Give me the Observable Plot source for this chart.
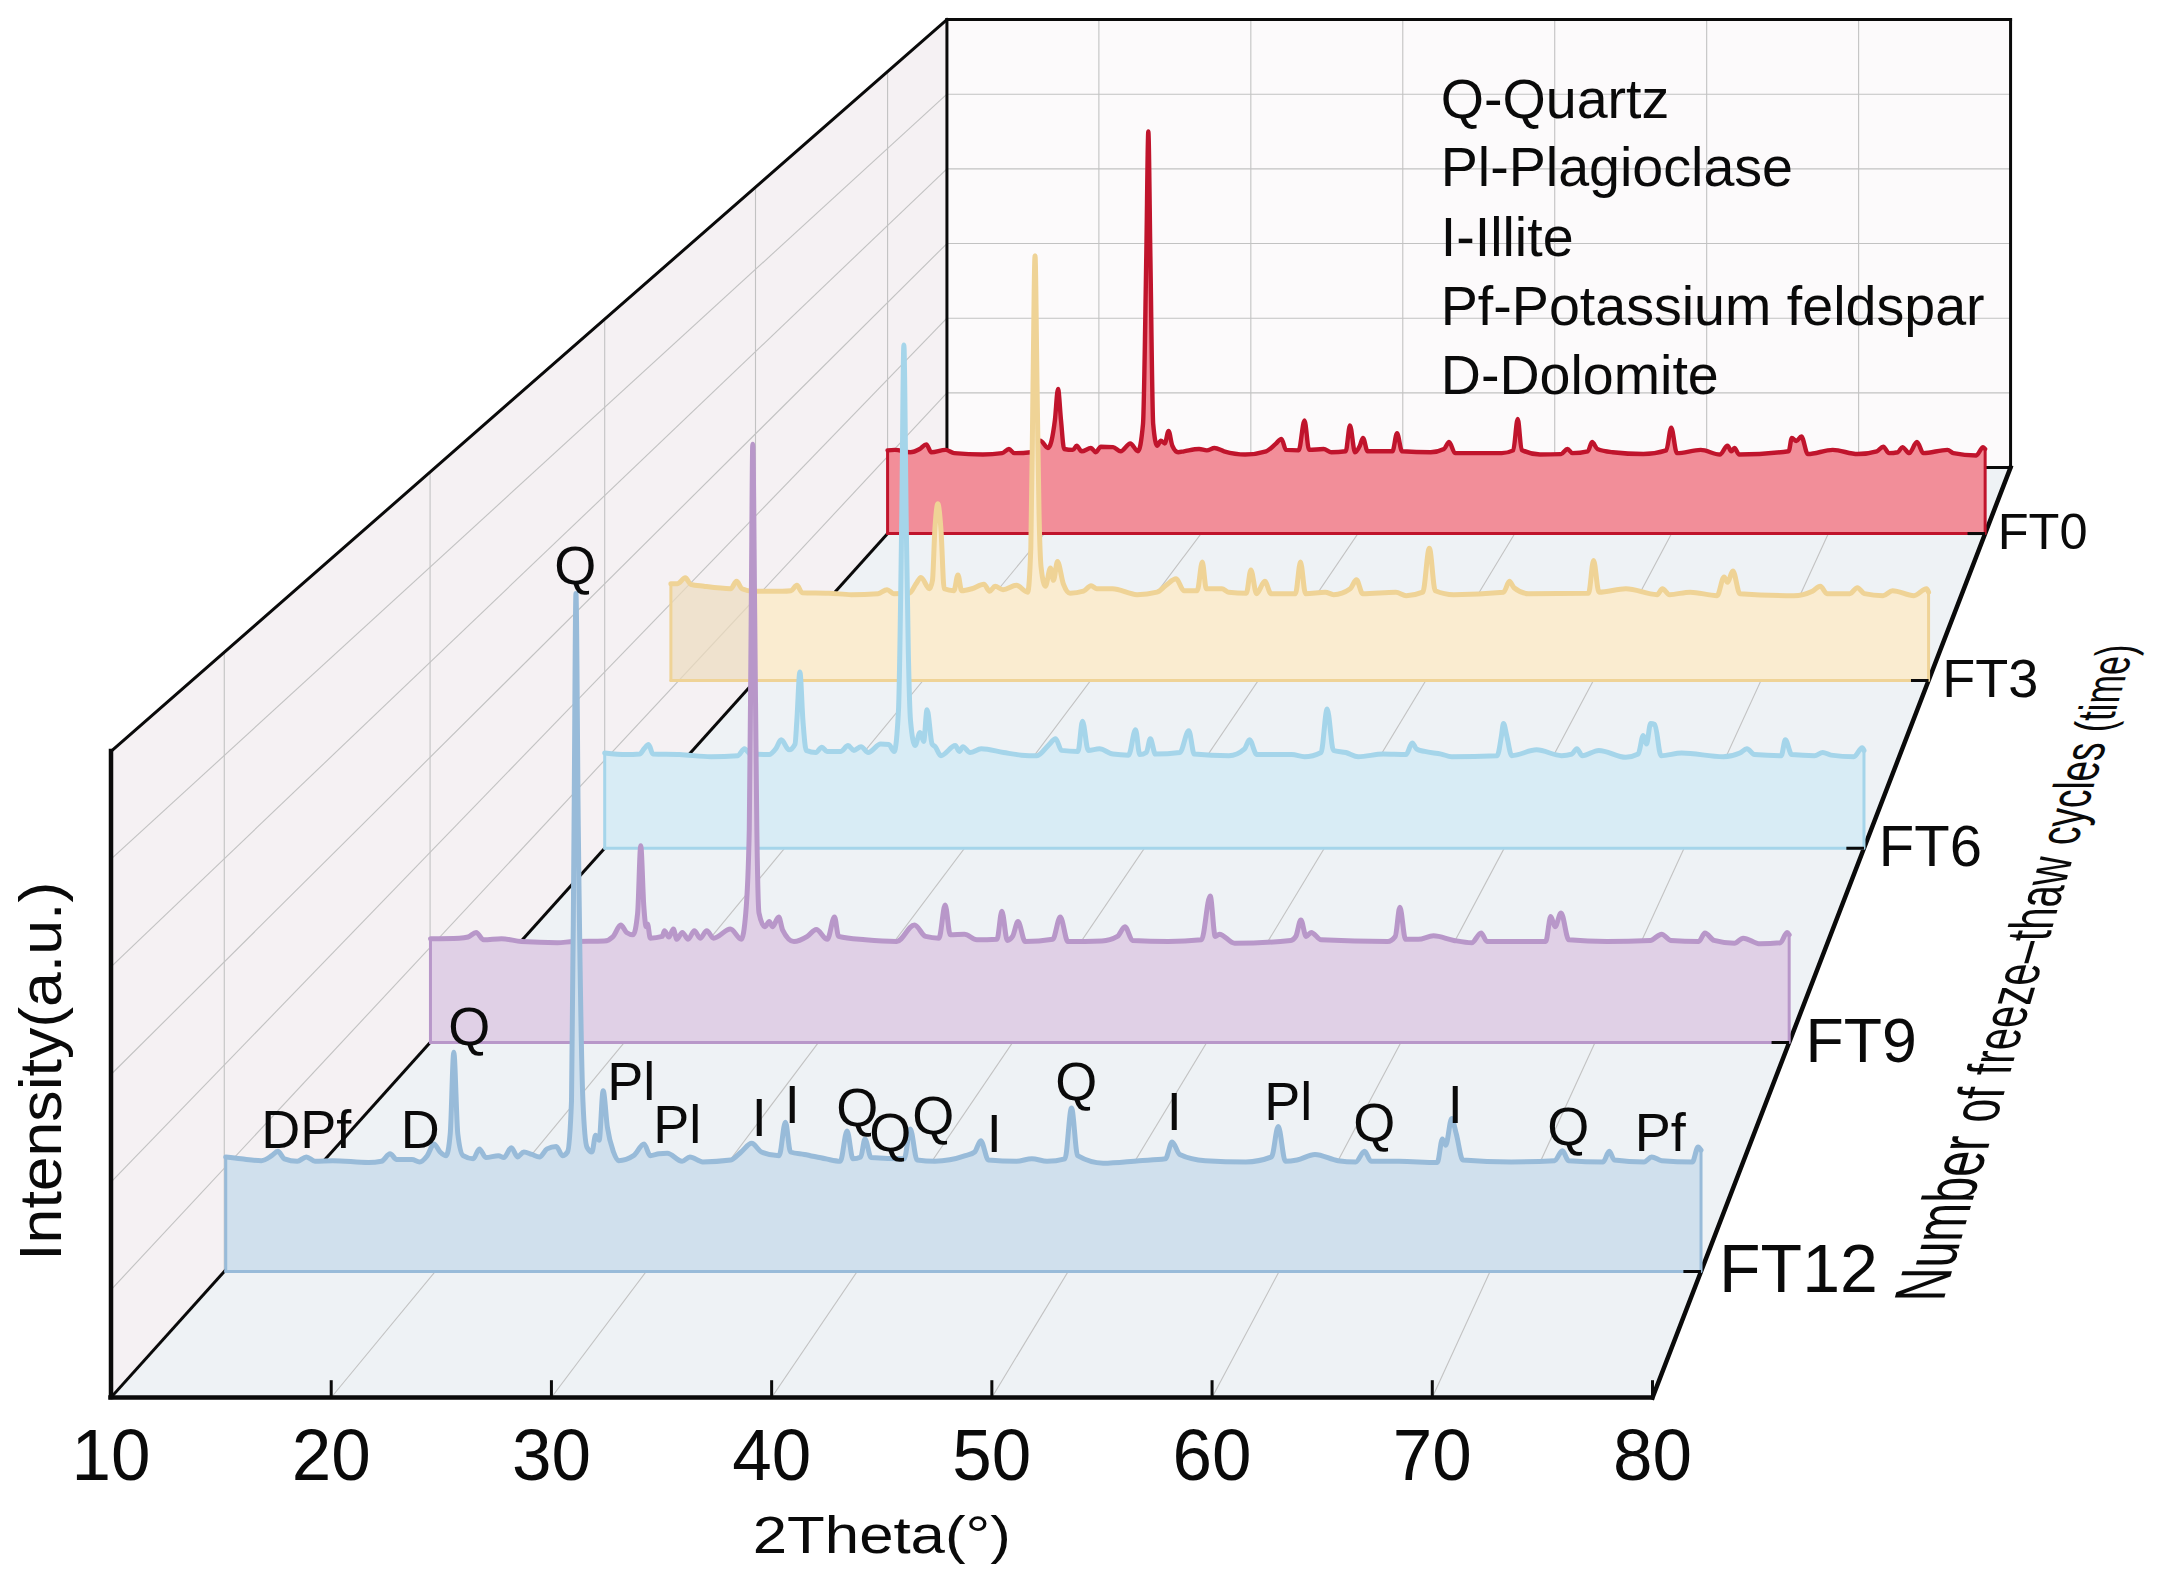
<!DOCTYPE html>
<html>
<head>
<meta charset="utf-8">
<script src="https://cdn.jsdelivr.net/npm/d3@7"></script>
<script src="https://cdn.jsdelivr.net/npm/@observablehq/plot@0.6"></script>
<style>html,body{margin:0;padding:0;background:#fff}svg{display:block}</style>
</head>
<body>
<div id="chart"></div>
<script>
const ft0 = [[10,180],[10.47,181],[11.44,176],[12.05,183],[12.47,193],[12.79,176],[13.69,181],[14.25,174],[16.08,171],[17.3,174],[17.74,183],[18.08,174],[19.13,176],[19.74,201],[20.23,185],[20.67,245],[20.87,313],[21.06,245],[21.26,183],[21.82,181],[22.06,190],[22.38,178],[22.97,185],[23.28,176],[23.6,188],[24.38,187],[24.87,178],[25.48,195],[25.97,178],[26.29,237],[26.5,600],[26.63,870],[26.76,600],[26.94,237],[27.19,190],[27.43,201],[27.68,195],[27.92,222],[28.16,190],[28.53,176],[28.9,178],[29.87,183],[30.36,180],[30.85,185],[31.46,178],[32.8,171],[34.14,178],[34.75,194],[35.12,205],[35.41,181],[36.22,180],[36.59,245],[36.88,181],[37.81,183],[38.3,176],[39.22,178],[39.49,234],[39.81,176],[40.12,190],[40.32,207],[40.61,178],[42.2,178],[42.49,217],[42.81,178],[44.64,176],[45.49,183],[45.81,198],[46.19,174],[47.7,174],[49.17,174],[49.9,180],[50.19,248],[50.44,181],[51.61,171],[52.95,172],[53.36,183],[53.68,174],[54.66,178],[54.93,198],[55.27,183],[56.24,176],[58.2,172],[59.66,180],[59.98,229],[60.34,174],[61.86,181],[63.08,171],[63.57,190],[63.81,178],[64.01,185],[64.31,171],[67.47,178],[67.67,207],[67.96,200],[68.28,210],[68.69,172],[70.28,181],[71.87,172],[73.09,178],[73.5,188],[73.87,174],[74.43,176],[74.72,187],[75.16,174],[75.65,198],[76.06,174],[77.6,181],[77.97,174],[79.43,169],[79.87,187],[80,183]];
const ft3 = [[4.95,196],[5.33,196],[5.81,208],[6.13,195],[6.92,191],[8.52,186],[8.87,201],[9.19,186],[9.86,181],[10,181],[11.59,181],[12.12,182],[12.47,193],[12.79,178],[14.38,177],[15.72,174],[17.31,176],[17.85,184],[18.25,176],[19.18,177],[19.58,196],[19.87,209],[20.38,186],[20.56,203],[20.7,304],[20.88,358],[21.07,304],[21.26,186],[21.84,182],[22.08,214],[22.3,182],[22.91,186],[23.63,195],[23.97,181],[24.3,191],[24.77,184],[25.57,193],[26.24,179],[26.43,270],[26.56,600],[26.68,861],[26.8,600],[26.92,338],[27.04,230],[27.3,191],[27.6,228],[27.78,203],[28.02,241],[28.37,196],[28.77,177],[29.57,181],[30.02,192],[30.37,186],[31.3,186],[32.77,174],[33.96,179],[34.5,193],[35.1,206],[35.56,182],[36.36,182],[36.66,240],[36.9,186],[37.83,186],[38.23,179],[39.29,177],[39.56,224],[39.9,176],[40.39,201],[40.76,176],[42.22,176],[42.52,240],[42.82,176],[44.0,179],[44.5,174],[45.49,186],[45.86,204],[46.23,176],[48.21,179],[48.83,172],[49.82,179],[50.21,268],[50.56,182],[51.67,174],[54.64,179],[54.99,201],[55.26,188],[56.13,176],[59.71,177],[60.01,243],[60.33,179],[61.94,186],[63.8,174],[64.12,186],[64.54,174],[65.78,179],[67.38,172],[67.8,210],[68.0,199],[68.32,222],[68.74,176],[71.96,172],[73.07,181],[73.54,191],[73.94,176],[75.3,176],[75.75,188],[76.17,176],[77.28,172],[77.85,182],[79.13,172],[79.88,186],[80,179]];
const ft6 = [[10,180],[11.2,177],[11.94,178],[12.19,188],[12.44,196],[12.68,178],[14.17,177],[15.91,173],[17.4,175],[17.77,188],[18.1,178],[19.14,177],[19.51,188],[19.81,205],[20.25,186],[20.58,197],[20.68,241],[20.85,333],[21.02,241],[21.2,185],[21.74,181],[22.07,191],[22.36,183],[23.11,183],[23.53,194],[23.85,185],[24.25,192],[24.65,181],[25.34,197],[25.79,196],[26.09,183],[26.33,260],[26.51,620],[26.63,951],[26.76,620],[26.88,367],[27.0,241],[27.25,194],[27.53,219],[27.73,202],[27.92,262],[28.2,197],[28.37,192],[28.69,175],[29.49,194],[29.71,183],[29.91,192],[30.31,181],[30.93,188],[32.17,181],[33.16,176],[34.03,175],[34.65,194],[35.07,207],[35.39,185],[36.31,183],[36.56,240],[36.88,185],[37.5,188],[38.25,178],[39.12,176],[39.51,224],[39.74,177],[40.11,181],[40.33,207],[40.61,178],[41.97,181],[42.47,222],[42.77,178],[44.7,175],[45.57,188],[45.84,205],[46.25,177],[48.2,177],[48.9,173],[49.82,181],[50.16,263],[50.51,185],[51.2,181],[51.89,173],[53.28,178],[54.54,177],[54.89,199],[55.12,188],[55.58,183],[56.5,178],[57.08,173],[59.61,175],[59.85,213],[59.96,236],[60.14,213],[60.42,175],[61.8,186],[63.19,175],[63.76,178],[64.04,188],[64.34,175],[65.26,185],[66.76,172],[67.45,178],[67.73,213],[67.91,197],[68.14,236],[68.37,234],[68.72,175],[69.87,180],[72.18,173],[73.1,180],[73.49,188],[73.91,177],[75.4,175],[75.63,205],[75.98,177],[77.25,175],[77.71,181],[78.17,176],[79.44,173],[79.9,190],[80,185]];
const ft9 = [[10.02,182],[11.5,183],[11.96,185],[12.37,193],[12.76,180],[13.68,182],[14.71,177],[16.55,175],[17.36,177],[18.97,178],[19.43,186],[19.82,206],[20.12,193],[20.46,189],[20.69,227],[20.85,345],[21.01,238],[21.13,203],[21.2,208],[21.34,183],[21.96,186],[22.07,196],[22.3,185],[22.53,199],[22.71,181],[22.99,193],[23.29,181],[23.61,196],[23.91,183],[24.25,196],[24.6,183],[25.47,199],[26.03,181],[26.26,227],[26.44,373],[26.54,750],[26.62,1049],[26.72,750],[26.83,373],[26.94,227],[27.24,203],[27.47,212],[27.63,203],[27.96,220],[28.16,197],[28.74,177],[29.43,186],[29.89,198],[30.46,181],[30.83,220],[31.04,186],[32.42,180],[34.03,177],[34.95,206],[35.52,186],[36.21,183],[36.53,241],[36.79,189],[37.52,190],[38.16,180],[39.2,181],[39.45,230],[39.73,179],[40.0,186],[40.28,212],[40.65,177],[42.07,181],[42.46,220],[42.85,177],[44.6,178],[45.4,186],[45.79,203],[46.18,179],[48.02,177],[49.73,180],[50.18,257],[50.44,186],[50.65,190],[51.44,174],[54.33,179],[54.59,186],[54.85,215],[55.12,186],[55.38,193],[55.9,180],[59.32,177],[59.71,186],[59.95,237],[60.24,181],[60.9,181],[61.68,187],[62.73,179],[63.65,175],[64.13,192],[64.44,177],[67.46,177],[67.72,221],[67.94,203],[68.25,227],[68.65,180],[70.61,177],[72.85,179],[73.43,190],[73.9,179],[75.34,177],[75.66,192],[76.13,179],[77.18,174],[77.63,183],[78.5,173],[79.55,175],[79.89,193],[80,189]];
const ft12 = [[10.07,185],[10.8,182],[11.76,179],[12.25,187],[12.54,194],[12.85,182],[13.46,178],[13.89,185],[14.3,178],[15.15,179],[16.84,176],[17.45,178],[17.86,190],[18.17,181],[18.9,181],[19.26,177],[19.62,187],[19.94,206],[20.23,193],[20.52,187],[20.71,222],[20.88,354],[21.07,222],[21.32,187],[21.8,182],[22.09,198],[22.4,184],[23.0,187],[23.25,184],[23.61,200],[23.9,185],[24.2,193],[24.58,189],[24.94,185],[25.3,198],[25.74,202],[26.03,187],[26.27,193],[26.46,276],[26.58,720],[26.67,1095],[26.78,720],[27.0,276],[27.19,201],[27.43,193],[27.6,220],[27.77,212],[27.96,292],[28.16,233],[28.45,193],[28.69,179],[29.4,187],[29.9,206],[30.19,187],[30.6,190],[31.0,191],[31.7,178],[32.07,185],[32.68,177],[34.01,180],[34.5,193],[35.0,207],[35.46,193],[36.3,187],[36.6,241],[36.84,193],[37.5,189],[38.5,182],[39.2,178],[39.52,227],[39.8,182],[40.17,185],[40.37,214],[40.66,184],[42.23,182],[42.52,230],[42.84,180],[43.68,178],[45.13,187],[45.57,193],[45.86,211],[46.22,180],[47.55,178],[48.28,182],[49.0,178],[49.85,182],[50.16,264],[50.45,187],[51.66,175],[53.36,179],[54.61,182],[54.93,209],[55.29,189],[56.5,179],[58.43,177],[59.64,185],[59.96,234],[60.3,178],[60.85,180],[61.7,189],[62.79,179],[63.63,177],[64.05,194],[64.36,178],[65.69,178],[67.5,176],[67.74,214],[67.9,204],[68.18,247],[68.4,222],[68.71,180],[71.0,177],[73.06,179],[73.43,195],[73.72,179],[75.36,177],[75.65,194],[75.89,180],[77.3,177],[77.66,185],[78.14,179],[79.59,177],[79.86,201],[80,196]];

const rowNames = ["FT0","FT3","FT6","FT9","FT12"];
const rowDepths = [0.929,0.771,0.5906,0.3817,0.1355];
const rowSeries = [ft0,ft3,ft6,ft9,ft12];
const rowStrokes = ["#c0142c","#efd396","#a5d5ea","#b897c9","#98bbd9"];
const rowFills = ["#f28e99","#faecd0","#d8ecf5","#e0d0e6","#d0e0ed"];

const phaseNames = ["Q","Q","DPf","D","Pl","Pl","I","I","Q","Q","Q","I","Q","I","Pl","Q","I","Q","Pf"];
const phaseTheta = [26.64,21.61,13.89,19.29,29.29,31.47,35.36,36.92,40.0,41.57,43.61,46.5,50.39,55.03,60.43,64.51,68.35,73.71,78.07];
const phaseIntensity = [1139,394,228,228,305,236,246,268,263,223,250,221,305,257,273,239,268,233,223];

const legendLines = ["Q-Quartz","Pl-Plagioclase","I-Illite","Pf-Potassium feldspar","D-Dolomite"];
const legendLevels = [821,667,511,357,203];

const xTicks = [10,20,30,40,50,60,70,80];
const gridTheta = [20,30,40,50,60,70];
const gridLevels = [1000/6,2000/6,3000/6,4000/6,5000/6];

// Oblique box: d=0 is the front face, d=1 the back wall; all in the scales' own units
const backLeft = 47.96, backRight = 96.26, floorRise = 1439.6, backShrink = 0.6935;
const px = (t,d) => (1-d)*t + d*(backLeft + (t-10)/70*(backRight-backLeft));
const py = (i,d) => d*floorRise + i*(1-d*(1-backShrink));
const link = (rows, o) => Plot.link(rows,{x1:r=>px(r[0],r[1]),y1:r=>py(r[2],r[1]),x2:r=>px(r[3],r[4]),y2:r=>py(r[5],r[4]),...o});
const poly = (corners, fill) => Plot.line(corners,{x:c=>px(c[0],c[1]),y:c=>py(c[2],c[1]),fill,stroke:"none"});

const FONT = "Liberation Sans";
const grid = {stroke:"#c2c2c2",strokeWidth:1.1};
const black = w => ({stroke:"#0a0a0a",strokeWidth:w,strokeLinecap:"square"});

const marks = [
  poly([[10,0,0],[10,1,0],[10,1,1000],[10,0,1000]],"#f5f1f3"),
  poly([[10,1,0],[80,1,0],[80,1,1000],[10,1,1000]],"#fcfafb"),
  poly([[10,0,0],[80,0,0],[80,1,0],[10,1,0]],"#eef2f5"),
  link(gridTheta.map(t=>[t,0,0,t,1,0]),grid),
  link(gridTheta.map(t=>[t,1,0,t,1,1000]),grid),
  link(gridLevels.map(l=>[10,1,l,80,1,l]),grid),
  link(gridLevels.map(l=>[10,0,l,10,1,l]),grid),
  link(rowDepths.map(d=>[10,d,0,10,d,1000]),grid),
  link([[10,0,1000,10,1,1000],[10,1,1000,80,1,1000],[10,1,0,10,1,1000],[10,1,0,80,1,0],[80,1,0,80,1,1000],[10,0,0,10,1,0]],black(3)),
  link([[80,0,0,80,1,0]],black(4.5)),
];

rowSeries.forEach((series,k)=>{
  const d = rowDepths[k], stroke = rowStrokes[k], fill = rowFills[k];
  const area = (rows,o) => Plot.areaY(rows,{x:r=>px(r[0],d),y1:()=>py(0,d),y2:r=>py(r[1],d),curve:"monotone-x",...o});
  const first = series[0][0];
  if (first < 10) {
    marks.push(area(series.filter(r=>r[0]<=10),{fill:"#eddcbe",fillOpacity:0.7}));
    marks.push(area(series.filter(r=>r[0]>=10),{fill}));
  } else {
    marks.push(area(series,{fill}));
  }
  const outline = [[first,0],series[0],[80,series[series.length-1][1]],[80,0],[first,0]];
  marks.push(Plot.line(outline.slice(0,2),{x:r=>px(r[0],d),y:r=>py(r[1],d),stroke,strokeWidth:3}));
  marks.push(Plot.line(outline.slice(2),{x:r=>px(r[0],d),y:r=>py(r[1],d),stroke,strokeWidth:3}));
  marks.push(Plot.line(series,{x:r=>px(r[0],d),y:r=>py(r[1],d),stroke,strokeWidth:k===0?4.4:5,strokeLinejoin:"round",curve:"monotone-x"}));
  marks.push(link([[80,d,0,80,d,0]],{x1:()=>px(80,d)-0.8,stroke:"#0a0a0a",strokeWidth:3}));
  marks.push(Plot.text([rowNames[k]],{x:()=>px(80,d),y:()=>py(0,d),text:t=>t,textAnchor:"start",dx:19-7*d,dy:-1,fontSize:71-22*d,fontFamily:FONT,fill:"#0a0a0a"}));
});

const phaseD = rowDepths[4];
marks.push(
  Plot.text(phaseNames,{x:(_,i)=>px(phaseTheta[i],phaseD),y:(_,i)=>py(phaseIntensity[i],phaseD),text:t=>t,fontSize:54,fontFamily:FONT,fill:"#0a0a0a",className:"phase"}),
  Plot.text(legendLines,{x:()=>px(42.5,1),y:(_,i)=>py(legendLevels[i],1),text:t=>t,textAnchor:"start",fontSize:55.6,fontFamily:FONT,fill:"#0a0a0a"}),
  Plot.ruleY([0],{stroke:"#0a0a0a",strokeWidth:4.5,strokeLinecap:"square"}),
  Plot.ruleX([10],{y1:0,y2:1000,stroke:"#0a0a0a",strokeWidth:4.5,strokeLinecap:"square"}),
  Plot.ruleX(xTicks,{y1:0,y2:26,stroke:"#0a0a0a",strokeWidth:3}),
  Plot.axisX({ticks:xTicks,tickSize:0,tickPadding:31,fontSize:72,fontFamily:FONT,label:null,fill:"#0a0a0a",className:"xlab",tickFormat:d=>String(d)}),
  Plot.text(["2Theta(°)"],{x:()=>45,y:()=>-215,text:t=>t,fontSize:51,fontFamily:FONT,fill:"#0a0a0a",className:"xtitle"}),
  Plot.text(["Intensity(a.u.)"],{x:()=>6.84,y:()=>505,text:t=>t,rotate:-90,fontSize:60,fontFamily:FONT,fill:"#0a0a0a",className:"ytitle"}),
  Plot.text(["Number of freeze–thaw cycles (time)"],{x:()=>93.2,y:()=>149,text:t=>t,textAnchor:"start",lineAnchor:"bottom",fontSize:60,fontFamily:FONT,fill:"#0a0a0a",className:"ztitle"})
);

const plot = Plot.plot({
  width:2161,height:1580,
  marginLeft:110.5,marginRight:509,marginTop:751,marginBottom:183,
  x:{domain:[10,80],axis:null},
  y:{domain:[0,1000],axis:null},
  style:{background:"#fff",overflow:"visible"},
  marks
});
document.getElementById("chart").append(plot);

const svg = d3.select(plot);
const fit = (sel,len) => svg.selectAll(sel).attr("textLength",len).attr("lengthAdjust","spacingAndGlyphs");
fit(".xlab text",79);
fit(".xtitle text",258);
fit(".ytitle text",379);

// right-hand title runs along the floor edge with stems kept level, shrinking with depth
const zText = svg.select(".ztitle text");
const start = [plot.scale("x").apply(93.2), plot.scale("y").apply(149)];
const run = [191,-653], runLen = Math.hypot(...run), squeeze = 0.675;
zText.attr("transform",`matrix(${run[0]/runLen*squeeze},${run[1]/runLen*squeeze},1,0,${start[0]},${start[1]})`)
     .attr("x",null).attr("y",null).attr("dy",null).text(null);
[["Number ",72],["of ",66],["freeze–thaw ",62],["cycles ",57],["(time)",53]].forEach(([w,s])=>{
  zText.append("tspan").attr("font-size",s).text(w);
});
</script>
</body>
</html>
